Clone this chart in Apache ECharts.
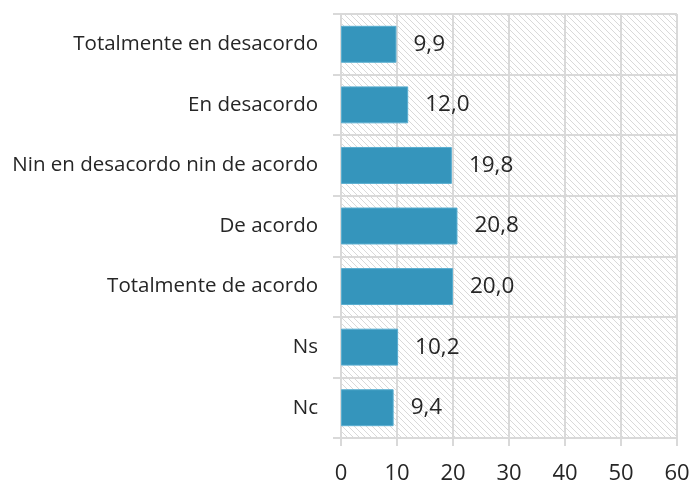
<!DOCTYPE html>
<html>
<head>
<meta charset="utf-8">
<script src="https://cdn.jsdelivr.net/npm/echarts@6/dist/echarts.min.js"></script>
<style>
  html, body { margin: 0; padding: 0; background: #fff; }
  #chart { width: 693px; height: 482px; }
</style>
</head>
<body>
<div id="chart"></div>
<script>
// datos
var categories = ['Totalmente en desacordo', 'En desacordo', 'Nin en desacordo nin de acordo',
  'De acordo', 'Totalmente de acordo', 'Ns', 'Nc'];
var values = [9.9, 12.0, 19.8, 20.8, 20.0, 10.2, 9.4];
var xTicks = [0, 10, 20, 30, 40, 50, 60];

// patrón rayado do fondo
function makeHatch() {
  var c = document.createElement('canvas');
  c.width = 6; c.height = 6;
  var ctx = c.getContext('2d');
  ctx.fillStyle = '#ffffff';
  ctx.fillRect(0, 0, 6, 6);
  ctx.strokeStyle = '#d9d9d9';
  ctx.lineWidth = 1;
  ctx.beginPath();
  ctx.moveTo(0, 0); ctx.lineTo(6, 6);
  ctx.moveTo(-3, 3); ctx.lineTo(3, 9);
  ctx.moveTo(3, -3); ctx.lineTo(9, 3);
  ctx.stroke();
  return c;
}

var myChart = echarts.init(document.getElementById('chart'));
var fontFam = '"Open Sans", "DejaVu Sans", sans-serif';

var option = {
  animation: false,
  grid: {
    left: 341, right: 16, top: 14, bottom: 44,
    outerBoundsMode: 'none',
    containLabel: false,
    show: true,
    borderWidth: 0,
    backgroundColor: { image: makeHatch(), repeat: 'repeat' }
  },
  xAxis: {
    type: 'value',
    min: xTicks[0],
    max: xTicks[xTicks.length - 1],
    interval: 10,
    axisLine: { show: false },
    axisTick: { show: true, length: 8, lineStyle: { color: '#d9d9d9', width: 2 } },
    splitLine: { show: true, lineStyle: { color: '#d9d9d9', width: 2 } },
    axisLabel: { color: '#262626', fontSize: 22, fontFamily: fontFam, margin: 25 }
  },
  yAxis: {
    type: 'category',
    data: categories,
    inverse: true,
    axisLine: { show: false },
    axisTick: { show: true, length: 8, lineStyle: { color: '#d9d9d9', width: 2 } },
    splitLine: { show: true, lineStyle: { color: '#d9d9d9', width: 2 } },
    axisLabel: { color: '#262626', fontSize: 20.5, fontFamily: fontFam, margin: 23 }
  },
  series: [{
    type: 'bar',
    data: values,
    barWidth: '61%',
    itemStyle: { color: '#3595bc', borderColor: '#5aaed0', borderWidth: 1 },
    label: {
      show: true,
      position: 'right',
      distance: 17,
      color: '#262626',
      fontSize: 22.5,
      fontFamily: fontFam,
      formatter: function (p) { return p.value.toFixed(1).replace('.', ','); }
    }
  }]
};

myChart.setOption(option);
</script>
</body>
</html>
